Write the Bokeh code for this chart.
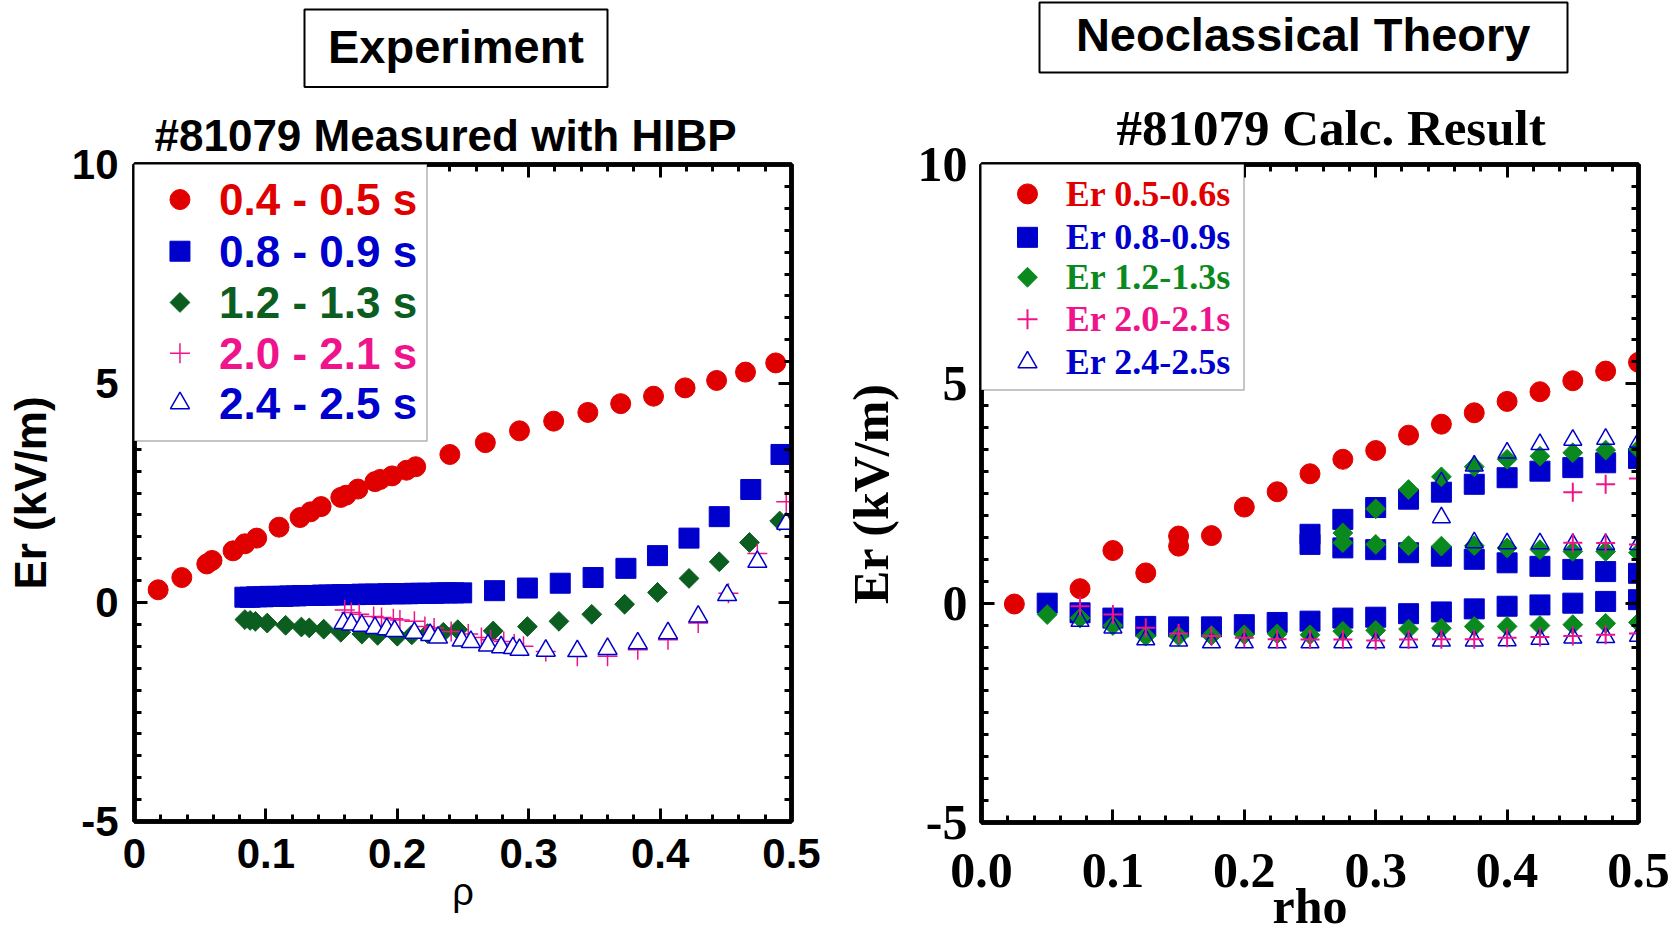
import math
from bokeh.plotting import figure
from bokeh.models import (Range1d, LinearAxis, SingleIntervalTicker,
                          NumeralTickFormatter, BoxAnnotation, Label, Title)
from bokeh.core.properties import value
from bokeh.layouts import row, column
from bokeh.embed import file_html
from bokeh.resources import INLINE

SANS = "Liberation Sans"
SERIF = "Liberation Serif"

RED = "#e00000"
BLUE = "#0000cc"
GREEN_EXP = "#0b5e1f"
GREEN_TH = "#0a8a1e"
PINK = "#f0148c"

# ---------------- titles ----------------
exp_box_title = "Experiment"
exp_sub_title = "#81079 Measured with HIBP"
th_box_title = "Neoclassical Theory"
th_sub_title = "#81079 Calc. Result"

# ---------------- Experiment (#81079 Measured with HIBP) ----------------
exp_labels = ["0.4 - 0.5 s", "0.8 - 0.9 s", "1.2 - 1.3 s", "2.0 - 2.1 s", "2.4 - 2.5 s"]

exp_red_x = [0.018, 0.036, 0.055, 0.059, 0.075, 0.084, 0.093, 0.110, 0.126, 0.134,
             0.142, 0.157, 0.161, 0.170, 0.183, 0.187, 0.196, 0.207, 0.214, 0.240,
             0.267, 0.293, 0.319, 0.345, 0.370, 0.395, 0.419, 0.443, 0.465, 0.488]
exp_red_y = [0.29, 0.57, 0.88, 0.96, 1.18, 1.34, 1.47, 1.72, 1.94, 2.07,
             2.19, 2.40, 2.45, 2.59, 2.76, 2.81, 2.89, 3.02, 3.10, 3.38,
             3.65, 3.92, 4.14, 4.34, 4.54, 4.71, 4.90, 5.07, 5.26, 5.47]

exp_blue_x = [0.084, 0.088, 0.093, 0.098, 0.103, 0.108, 0.113, 0.118, 0.123, 0.128,
              0.133, 0.138, 0.143, 0.148, 0.153, 0.158, 0.163, 0.168, 0.173, 0.178,
              0.183, 0.188, 0.193, 0.198, 0.203, 0.208, 0.213, 0.218, 0.223, 0.228,
              0.233, 0.238, 0.243, 0.249,
              0.274, 0.299, 0.324, 0.349, 0.374, 0.398, 0.422, 0.445, 0.469, 0.492]
exp_blue_y = [0.12, 0.12, 0.13, 0.13, 0.14, 0.14, 0.14, 0.15, 0.15, 0.16,
              0.16, 0.16, 0.17, 0.17, 0.17, 0.18, 0.18, 0.18, 0.19, 0.19,
              0.19, 0.19, 0.20, 0.20, 0.20, 0.20, 0.21, 0.21, 0.21, 0.21,
              0.22, 0.22, 0.22, 0.22,
              0.27, 0.33, 0.44, 0.57, 0.78, 1.07, 1.47, 1.96, 2.58, 3.38]

exp_green_x = [0.084, 0.088, 0.092, 0.101, 0.115, 0.127, 0.133, 0.144, 0.157, 0.173,
               0.185, 0.200, 0.211, 0.223, 0.235, 0.246, 0.273, 0.299, 0.323, 0.348,
               0.373, 0.398, 0.422, 0.445, 0.468, 0.491]
exp_green_y = [-0.39, -0.41, -0.43, -0.47, -0.52, -0.56, -0.58, -0.61, -0.68, -0.72,
               -0.75, -0.77, -0.74, -0.71, -0.68, -0.62, -0.65, -0.55, -0.43, -0.27,
               -0.04, 0.23, 0.55, 0.93, 1.37, 1.86]

exp_pink_x = [0.160, 0.165, 0.171, 0.182, 0.188, 0.197, 0.202, 0.213, 0.221, 0.228,
              0.241, 0.254, 0.264, 0.271, 0.281, 0.289, 0.296, 0.313, 0.337, 0.360,
              0.383, 0.406, 0.429, 0.452, 0.474, 0.496]
exp_pink_y = [-0.17, -0.23, -0.27, -0.32, -0.34, -0.37, -0.40, -0.43, -0.55, -0.58,
              -0.66, -0.72, -0.80, -0.85, -0.89, -0.95, -1.00, -1.12, -1.23, -1.23,
              -1.08, -0.85, -0.47, 0.21, 1.12, 2.30]

exp_tri_x = [0.159, 0.165, 0.173, 0.183, 0.192, 0.198, 0.213, 0.225, 0.231, 0.249,
             0.256, 0.269, 0.279, 0.288, 0.293, 0.313, 0.337, 0.360, 0.383, 0.406,
             0.429, 0.451, 0.474, 0.496]
exp_tri_y = [-0.47, -0.50, -0.53, -0.58, -0.61, -0.65, -0.69, -0.74, -0.80, -0.87,
             -0.90, -0.98, -1.02, -1.04, -1.08, -1.10, -1.11, -1.06, -0.93, -0.70,
             -0.32, 0.17, 0.93, 1.80]

# ---------------- Neoclassical theory (#81079 Calc. Result) ----------------
th_labels = ["Er 0.5-0.6s", "Er 0.8-0.9s", "Er 1.2-1.3s", "Er 2.0-2.1s", "Er 2.4-2.5s"]

th_red_x = [0.025, 0.075, 0.100, 0.125, 0.150, 0.150, 0.175, 0.200, 0.225, 0.250,
            0.275, 0.300, 0.325, 0.350, 0.375, 0.400, 0.425, 0.450, 0.475, 0.500]
th_red_y = [-0.02, 0.33, 1.20, 0.69, 1.53, 1.30, 1.54, 2.19, 2.54, 2.95,
            3.28, 3.48, 3.83, 4.08, 4.34, 4.60, 4.82, 5.07, 5.29, 5.49]

th_blue_x = [0.050, 0.075, 0.100, 0.125, 0.150, 0.175, 0.200, 0.225, 0.250, 0.275,
             0.300, 0.325, 0.350, 0.375, 0.400, 0.425, 0.450, 0.475, 0.500,
             0.250, 0.250, 0.275, 0.300, 0.325, 0.350, 0.375, 0.400, 0.425, 0.450, 0.475, 0.500,
             0.275, 0.300, 0.325, 0.350, 0.375, 0.400, 0.425, 0.450, 0.475, 0.500]
th_blue_y = [0.00, -0.22, -0.34, -0.53, -0.54, -0.54, -0.49, -0.44, -0.41, -0.34,
             -0.32, -0.24, -0.20, -0.13, -0.07, -0.04, 0.00, 0.04, 0.08,
             1.57, 1.34, 1.26, 1.22, 1.15, 1.07, 1.00, 0.92, 0.84, 0.77, 0.72, 0.68,
             1.91, 2.18, 2.37, 2.53, 2.71, 2.86, 3.01, 3.09, 3.20, 3.30]

th_green_x = [0.050, 0.075, 0.100, 0.125, 0.150, 0.175, 0.200, 0.225, 0.250, 0.275,
              0.300, 0.325, 0.350, 0.375, 0.400, 0.425, 0.450, 0.475, 0.500,
              0.275, 0.275, 0.300, 0.325, 0.350, 0.375, 0.400, 0.425, 0.450, 0.475, 0.500,
              0.300, 0.325, 0.350, 0.375, 0.400, 0.425, 0.450, 0.475, 0.500]
th_green_y = [-0.26, -0.34, -0.51, -0.75, -0.75, -0.74, -0.72, -0.70, -0.72, -0.64,
              -0.62, -0.59, -0.57, -0.53, -0.53, -0.51, -0.49, -0.46, -0.44,
              1.60, 1.38, 1.34, 1.31, 1.30, 1.31, 1.26, 1.22, 1.18, 1.18, 1.15,
              2.15, 2.59, 2.88, 3.11, 3.28, 3.35, 3.43, 3.49, 3.51]

th_pink_x = [0.075, 0.100, 0.125, 0.150, 0.175, 0.200, 0.225, 0.250, 0.275, 0.300,
             0.325, 0.350, 0.375, 0.400, 0.425, 0.450, 0.475, 0.500,
             0.450, 0.475, 0.500,
             0.450, 0.475, 0.500]
th_pink_y = [-0.07, -0.26, -0.56, -0.69, -0.75, -0.79, -0.82, -0.83, -0.83, -0.85,
             -0.83, -0.82, -0.82, -0.79, -0.77, -0.75, -0.72, -0.69,
             1.38, 1.37, 1.34,
             2.53, 2.71, 2.84]

th_tri_x = [0.075, 0.100, 0.125, 0.150, 0.175, 0.200, 0.225, 0.250, 0.275, 0.300,
            0.325, 0.350, 0.375, 0.400, 0.425, 0.450, 0.475, 0.500,
            0.350, 0.375, 0.400, 0.425, 0.450, 0.475, 0.500,
            0.350, 0.375, 0.400, 0.425, 0.450, 0.475, 0.500]
th_tri_y = [-0.41, -0.56, -0.83, -0.86, -0.90, -0.90, -0.90, -0.90, -0.90, -0.90,
            -0.89, -0.86, -0.86, -0.85, -0.82, -0.79, -0.78, -0.75,
            1.95, 1.38, 1.36, 1.36, 1.34, 1.34, 1.34,
            2.75, 3.13, 3.43, 3.62, 3.72, 3.74, 3.67]

PAGE_W = 1675
STRIP_H = 88
TOP_B = 76
FRAME_W = 657

# ---------------- heading strip (pixel coordinates, y downwards) ----------------
strip = figure(output_backend="svg", toolbar_location=None, width=PAGE_W, height=STRIP_H,
               x_range=Range1d(0, PAGE_W), y_range=Range1d(STRIP_H, 0),
               x_axis_location=None, y_axis_location=None, min_border=0)
strip.grid.visible = False
strip.outline_line_color = None
strip.background_fill_color = "white"
strip.border_fill_color = "white"

strip.quad(left=[304, 1039], right=[607, 1567], top=[9, 2], bottom=[86.5, 72],
           fill_color=None, line_color="black", line_width=2)
strip.text(x=[455.5, 1302.7], y=[46.4, 34.2], text=[exp_box_title, th_box_title],
           text_font=value(SANS), text_font_size=value("47px"), text_font_style="bold",
           text_align="center", text_baseline="alphabetic", text_color="black")


def make_fig(bl, br, bt, bb, fh):
    p = figure(output_backend="svg", toolbar_location=None,
               frame_width=FRAME_W, frame_height=fh,
               min_border_left=bl, min_border_right=br,
               min_border_top=bt, min_border_bottom=bb,
               x_range=Range1d(0, 0.5), y_range=Range1d(-5, 10))
    p.grid.visible = False
    p.outline_line_color = "black"
    p.outline_line_width = 4.5
    p.background_fill_color = "white"
    p.border_fill_color = "white"
    return p


def style_axes(p, font, size, xfmt, x_standoff, y_standoff):
    xt = SingleIntervalTicker(interval=0.1, num_minor_ticks=5)
    yt = SingleIntervalTicker(interval=5, num_minor_ticks=10)
    bottom = p.below[0]
    left = p.left[0]
    bottom.ticker = xt
    left.ticker = yt
    bottom.formatter = NumeralTickFormatter(format=xfmt)
    left.formatter = NumeralTickFormatter(format="0")
    right = LinearAxis(ticker=yt)
    top = LinearAxis(ticker=xt)
    p.add_layout(right, "right")
    p.add_layout(top, "above")
    for ax in (bottom, left, right, top):
        ax.axis_line_width = 4.5
        ax.axis_line_color = "black"
        ax.major_tick_in = 13
        ax.major_tick_out = 0
        ax.minor_tick_in = 7
        ax.minor_tick_out = 0
        ax.major_tick_line_width = 3
        ax.minor_tick_line_width = 3
        ax.major_label_text_font = font
        ax.major_label_text_font_size = size
        ax.major_label_text_font_style = "bold"
        ax.major_label_text_color = "black"
        ax.axis_label_text_color = "black"
    for ax in (right, top):
        ax.major_label_text_font_size = "1px"
        ax.major_label_text_alpha = 0
        ax.major_label_standoff = 0
    bottom.major_label_standoff = x_standoff
    left.major_label_standoff = y_standoff
    return bottom, left


def legend(p, box, entries, mx, tx, ys, font, size):
    p.add_layout(BoxAnnotation(left=box[0], right=box[1], bottom=box[2], top=box[3],
                               fill_color="white", fill_alpha=1.0,
                               line_color="black", line_width=1.5))
    for (marker, kw, text, color), yy in zip(entries, ys):
        p.scatter([mx], [yy], marker=marker, level="overlay", **kw)
        p.add_layout(Label(x=tx, y=yy, text=text, text_color=color, text_font=font,
                           text_font_size=size, text_font_style="bold",
                           text_baseline="middle"))


# ---------------- left panel ----------------
p1 = make_fig(134, 40, TOP_B, 112, 657)
b1, l1 = style_axes(p1, SANS, "42px", "0.[0]", 17, 16)
l1.axis_label = "Er (kV/m)"
l1.axis_label_text_font = SANS
l1.axis_label_text_font_size = "44px"
l1.axis_label_text_font_style = "bold"
l1.axis_label_standoff = 14
b1.axis_label = "ρ"
b1.axis_label_text_font = SANS
b1.axis_label_text_font_size = "38px"
b1.axis_label_text_font_style = "normal"
b1.axis_label_standoff = 0
p1.add_layout(Title(text=exp_sub_title, align="left", offset=20, standoff=10,
                    text_font=SANS, text_font_size="44px", text_font_style="bold",
                    text_color="black"), "above")

p1.scatter(exp_red_x, exp_red_y, marker="circle", size=20, fill_color=RED, line_color=RED)
p1.scatter(exp_blue_x, exp_blue_y, marker="square", size=20, fill_color=BLUE, line_color=BLUE)
p1.scatter(exp_green_x, exp_green_y, marker="square", angle=math.pi / 4, size=14,
           fill_color=GREEN_EXP, line_color=GREEN_EXP)
p1.scatter(exp_pink_x, exp_pink_y, marker="cross", size=20, line_color=PINK, line_width=1.5)
p1.scatter(exp_tri_x, exp_tri_y, marker="triangle", size=19, fill_color="white",
           line_color=BLUE, line_width=1.5)

legend(p1, (-0.002, 0.2226, 3.69, 10.057),
       [("circle", dict(size=20, fill_color=RED, line_color=RED), exp_labels[0], RED),
        ("square", dict(size=20, fill_color=BLUE, line_color=BLUE), exp_labels[1], BLUE),
        ("square", dict(size=14, angle=math.pi / 4, fill_color=GREEN_EXP, line_color=GREEN_EXP), exp_labels[2], GREEN_EXP),
        ("cross", dict(size=20, line_color=PINK, line_width=1.5), exp_labels[3], PINK),
        ("triangle", dict(size=19, fill_color="white", line_color=BLUE, line_width=1.5), exp_labels[4], BLUE)],
       0.0346, 0.0643, [9.20, 8.02, 6.85, 5.69, 4.55], SANS, "44px")

# ---------------- right panel ----------------
p2 = make_fig(150, 37, TOP_B, 111, 658)
b2, l2 = style_axes(p2, SERIF, "50px", "0.0", 31, 14)
l2.axis_label = "Er (kV/m)"
l2.axis_label_text_font = SERIF
l2.axis_label_text_font_size = "50px"
l2.axis_label_text_font_style = "bold"
l2.axis_label_standoff = 16
b2.axis_label = "rho"
b2.axis_label_text_font = SERIF
b2.axis_label_text_font_size = "50px"
b2.axis_label_text_font_style = "bold"
b2.axis_label_standoff = -12
p2.add_layout(Title(text=th_sub_title, align="left", offset=135, standoff=17,
                    text_font=SERIF, text_font_size="51px", text_font_style="bold",
                    text_color="black"), "above")

p2.scatter(th_red_x, th_red_y, marker="circle", size=20, fill_color=RED, line_color=RED)
p2.scatter(th_blue_x, th_blue_y, marker="square", size=20, fill_color=BLUE, line_color=BLUE)
p2.scatter(th_green_x, th_green_y, marker="square", angle=math.pi / 4, size=14,
           fill_color=GREEN_TH, line_color=GREEN_TH)
p2.scatter(th_tri_x, th_tri_y, marker="triangle", size=18, fill_color=None,
           line_color=BLUE, line_width=1.5)
p2.scatter(th_pink_x, th_pink_y, marker="cross", size=19, line_color=PINK, line_width=2)

legend(p2, (-0.002, 0.1998, 4.86, 10.057),
       [("circle", dict(size=20, fill_color=RED, line_color=RED), th_labels[0], RED),
        ("square", dict(size=20, fill_color=BLUE, line_color=BLUE), th_labels[1], BLUE),
        ("square", dict(size=14, angle=math.pi / 4, fill_color=GREEN_TH, line_color=GREEN_TH), th_labels[2], GREEN_TH),
        ("cross", dict(size=20, line_color=PINK, line_width=2), th_labels[3], PINK),
        ("triangle", dict(size=19, fill_color="white", line_color=BLUE, line_width=1.5), th_labels[4], BLUE)],
       0.035, 0.0642, [9.33, 8.34, 7.43, 6.47, 5.49], SERIF, "36px")

layout = column(strip, row(p1, p2))
open("out.html", "w").write(file_html(layout, INLINE))
